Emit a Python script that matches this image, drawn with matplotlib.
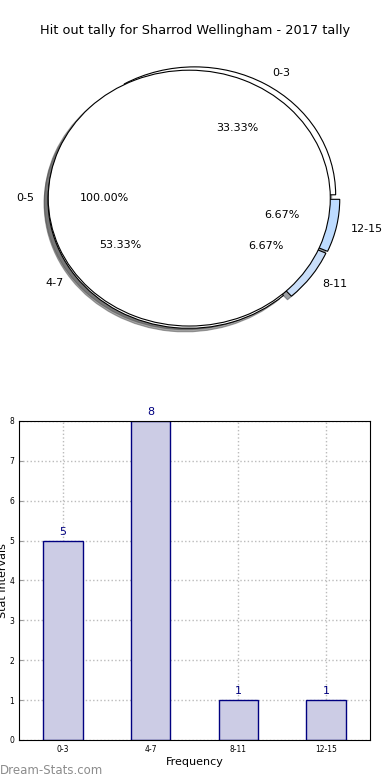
import numpy as np
import matplotlib.pyplot as plt

# data
title = "Hit out tally for Sharrod Wellingham - 2017 tally"
bins = ["0-3", "4-7", "8-11", "12-15"]
counts = [5, 8, 1, 1]
pie_colors = ["#ffffff", "#ffffff", "#c9def9", "#bddbff"]
outer_label = ["0-5"]
outer_value = [1]

fig = plt.figure(figsize=(3.9, 7.8), dpi=100)
fig.text(0.5, 0.961, title, ha="center", va="center", fontsize=9.3)

# pie (two layers, the full one drawn on top)
ax1 = fig.add_axes([0.0333, 0.541, 0.904, 0.410])
ax1.pie(counts, labels=bins, colors=pie_colors, explode=[0.03, 0.03, 0.04, 0.045],
        autopct="%.2f%%", startangle=0, shadow=True, center=(0.033, 0),
        wedgeprops=dict(linewidth=0.8, edgecolor="black"),
        textprops=dict(fontsize=8))
ax1.pie(outer_value, labels=outer_label, colors=["white"], autopct="%.2f%%",
        startangle=0, shadow=True, center=(0.01, 0),
        wedgeprops=dict(linewidth=0.8, edgecolor="black"),
        textprops=dict(fontsize=8))
ax1.set_aspect("auto")
ax1.set_xlim(-1.24, 1.26)
ax1.set_ylim(-1.25, 1.25)
ax1.axis("off")

# bars
ax2 = fig.add_axes([0.0487, 0.0513, 0.9, 0.409])
x = np.arange(len(bins))
ax2.bar(x, counts, width=0.45, color="#ccccE5", edgecolor="navy", linewidth=1, zorder=2)
for xi, c in zip(x, counts):
    ax2.text(xi, c + 0.1, str(c), ha="center", va="bottom", color="navy", fontsize=8)
ax2.set_xlim(-0.5, 3.5)
ax2.set_ylim(0, 8)
ax2.set_xticks(x)
ax2.set_xticklabels(bins)
ax2.set_yticks(range(9))
ax2.tick_params(labelsize=5.5, direction="in", length=3, color="#999999")
ax2.grid(True, linestyle=":", color="#bbbbbb", linewidth=1, zorder=0)
ax2.set_axisbelow(True)
ax2.set_xlabel("Frequency", fontsize=8, labelpad=2)
ax2.set_ylabel("Stat Intervals", fontsize=8, labelpad=1)

fig.text(0.0, 0.012, "Dream-Stats.com", ha="left", va="center", fontsize=8.5, color="#8c8c8c")

fig.savefig("out.png")
